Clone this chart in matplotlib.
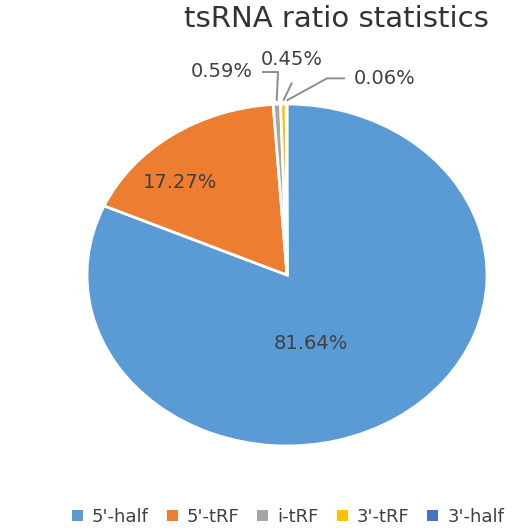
import numpy as np
import matplotlib.pyplot as plt

categories = ["5'-half", "5'-tRF", "i-tRF", "3'-tRF", "3'-half"]
ratios = [81.64, 17.27, 0.59, 0.45, 0.06]
colors = ["#5B9BD5", "#ED7D31", "#A5A5A5", "#FFC000", "#4472C4"]

# label centres (pie data units, radius = 1)
label_pos = [(0.12, -0.40), (-0.535, 0.54), (-0.325, 1.19), (0.025, 1.26), (0.49, 1.15)]
# leader lines for the small slices: (elbow, end) ; None = label inside
leaders = [None, None,
           ((-0.045, 1.187), (-0.125, 1.187)),
           ((0.025, 1.125), (0.025, 1.125)),
           ((0.20, 1.15), (0.29, 1.15))]

plt.rcParams['font.family'] = ['DejaVu Sans']

fig = plt.figure(figsize=(5.18, 5.31), dpi=100)
W, H = 518, 531
cx, cy, rx, ry = 287, 275, 200, 171
ax = fig.add_axes([(cx - rx) / W, (H - cy - ry) / H, 2 * rx / W, 2 * ry / H])

wedges, _ = ax.pie(ratios, colors=colors, startangle=90, counterclock=False,
                   wedgeprops=dict(edgecolor='white', linewidth=2))
ax.set_aspect('auto')
ax.set_xlim(-1, 1)
ax.set_ylim(-1, 1)
ax.axis('off')

for w, val, pos, ld in zip(wedges, ratios, label_pos, leaders):
    txt = f"{val:.2f}%"
    if ld is not None:
        ang = np.deg2rad((w.theta1 + w.theta2) / 2)
        sx, sy = np.cos(ang) * 1.02, np.sin(ang) * 1.02
        (ex, ey), (fx, fy) = ld
        ax.plot([sx, ex, fx], [sy, ey, fy], color='#8C8C8C', lw=1.4,
                clip_on=False, solid_capstyle='butt')
    ax.text(pos[0], pos[1], txt, ha='center', va='center', fontsize=14, color='#404040')

fig.text(336 / W, 1 - 19 / H, "tsRNA ratio statistics", ha='center', va='center',
         fontsize=21, color='#333333')

# legend patches without the white wedge edge
handles = [plt.Rectangle((0, 0), 1, 1, facecolor=c) for c in colors]
fig.legend(handles, categories, loc='center', bbox_to_anchor=(288 / W, 1 - 517 / H),
           ncol=5, frameon=False, fontsize=13, handlelength=0.6, handleheight=0.6,
           handletextpad=0.5, columnspacing=1.0, labelcolor='#404040')

fig.savefig('out.png', dpi=100)
